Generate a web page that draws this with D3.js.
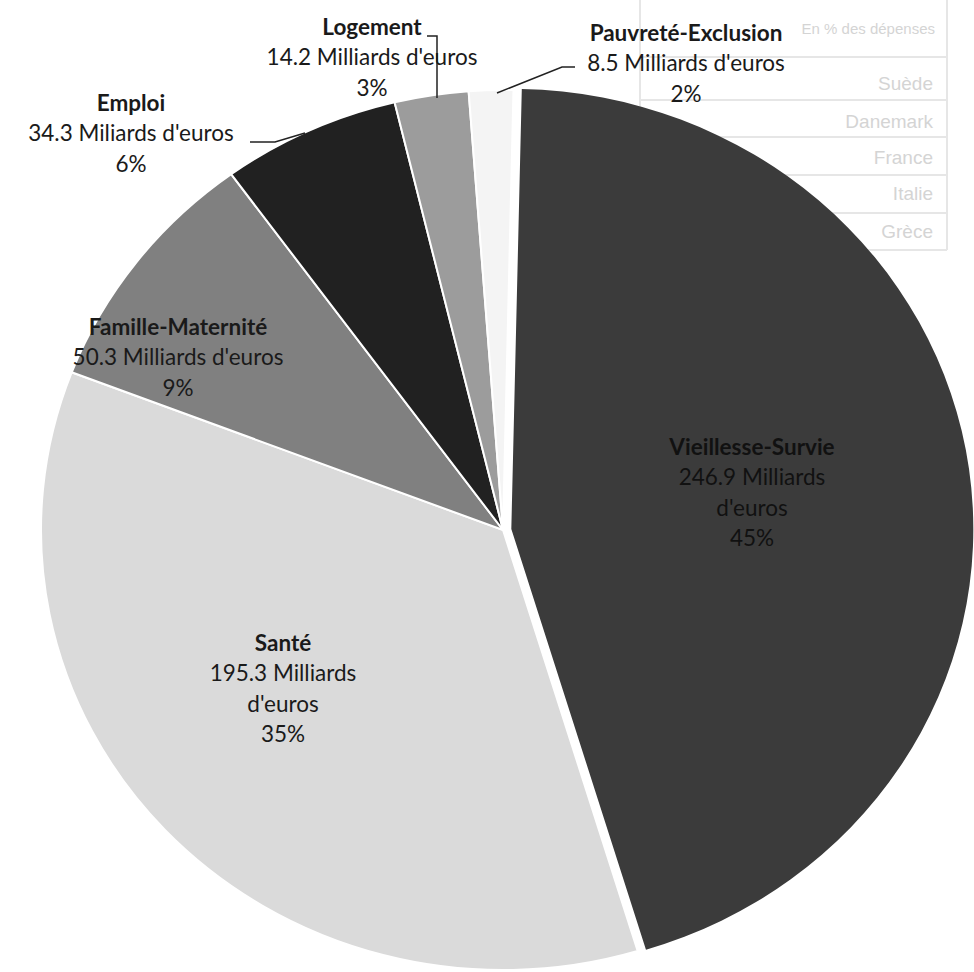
<!DOCTYPE html>
<html>
<head>
<meta charset="utf-8">
<script src="https://cdn.jsdelivr.net/npm/d3@7"></script>
<style>
  body { margin: 0; background: #fff; }
  svg { display: block; }
</style>
</head>
<body>
<svg id="chart" width="974" height="972"></svg>
<script>

// data
var categories = ["Vieillesse-Survie", "Santé", "Famille-Maternité", "Emploi", "Logement", "Pauvreté-Exclusion"];
var amounts = [246.9, 195.3, 50.3, 34.3, 14.2, 8.5];
var percents = [45, 35, 9, 6, 3, 2];
var unitWords = ["Milliards", "Milliards", "Milliards", "Miliards", "Milliards", "Milliards"];

// faint table showing through the scan
var tableRows = ["Suède", "Danemark", "France", "Italie", "Grèce"];

var fills = ["#3b3b3b", "#dadada", "#808080", "#212121", "#9c9c9c", "#f4f4f4"];

var svg = d3.select("#chart");
var cx = 503, cy = 530, R = 440, sx = 1.05;
var rot = 1.3 * Math.PI / 180;
var explode = 8;

// background table (faint)
var bg = svg.append("g").attr("fill", "#d4d4d4").style("font-family", "Liberation Sans, Arial, sans-serif").style("font-size", "19px");
[640, 947].forEach(function(x) {
    bg.append("line").attr("x1", x).attr("x2", x).attr("y1", 0).attr("y2", 250).attr("stroke", "#e6e6e6").attr("stroke-width", 2);
});
[57, 100, 137, 175, 213, 250].forEach(function(y) {
    bg.append("line").attr("x1", 640).attr("x2", 947).attr("y1", y).attr("y2", y).attr("stroke", "#e6e6e6").attr("stroke-width", 2);
});
bg.append("text").attr("x", 935).attr("y", 34).attr("text-anchor", "end").style("font-size", "15px").text("En % des dépenses");
bg.selectAll(".row").data(tableRows).enter().append("text")
    .attr("class", "row")
    .attr("x", 933)
    .attr("y", function(d, i) { return [90, 128, 164, 200, 238][i]; })
    .attr("text-anchor", "end")
    .text(function(d) { return d; });

var pie = d3.pie().sort(null).startAngle(rot).endAngle(rot + 2 * Math.PI);
var arc = d3.arc().innerRadius(0).outerRadius(R);
var arcs = pie(amounts);

var g = svg.append("g").attr("transform", "translate(" + cx + "," + cy + ") scale(" + sx + ",1)");

g.selectAll("path")
    .data(arcs)
    .enter()
    .append("path")
    .attr("d", arc)
    .attr("fill", function(d, i) { return fills[i]; })
    .attr("stroke", function(d, i) { return i == 0 ? "none" : "#fff"; })
    .attr("stroke-width", 2)
    .attr("vector-effect", "non-scaling-stroke")
    .attr("transform", function(d, i) {
        if (i != 0) return null;
        // exploded slice
        var mid = (d.startAngle + d.endAngle) / 2;
        return "translate(" + (Math.sin(mid) * explode) + "," + (-Math.cos(mid) * explode) + ")";
    });

// labels
var labelLayout = [
    {x: 752, y: 447, wrap: true},
    {x: 283, y: 643, wrap: true},
    {x: 178, y: 327, wrap: false},
    {x: 131, y: 103, wrap: false},
    {x: 372, y: 27, wrap: false},
    {x: 686, y: 33, wrap: false}
];
var lineGap = 30.5;

var leaders = [null, null, null,
    [[250, 142], [275, 142], [305, 133]],
    [[427, 36], [437, 36], [437, 98]],
    [[575, 67], [562, 67], [497, 93]]
];

var line = d3.line();
leaders.forEach(function(pts) {
    if (!pts) return;
    svg.append("path").attr("d", line(pts)).attr("fill", "none").attr("stroke", "#222").attr("stroke-width", 1.5);
});

categories.forEach(function(c, i) {
    var lay = labelLayout[i];
    var amt = amounts[i].toFixed(1) + " " + unitWords[i];
    var lines = lay.wrap ? [amt, "d'euros", percents[i] + "%"] : [amt + " d'euros", percents[i] + "%"];
    var t = svg.append("text")
        .attr("text-anchor", "middle")
        .style("font-family", "Lato, sans-serif")
        .style("font-size", "22.5px")
        .attr("fill", i == 0 ? "#111" : "#1a1a1a");
    t.append("tspan").attr("x", lay.x).attr("y", lay.y).attr("dy", "0.35em")
        .style("font-weight", "bold").text(c);
    lines.forEach(function(l, k) {
        t.append("tspan").attr("x", lay.x).attr("y", lay.y + (k + 1) * lineGap).attr("dy", "0.35em").text(l);
    });
});

</script>
</body>
</html>
